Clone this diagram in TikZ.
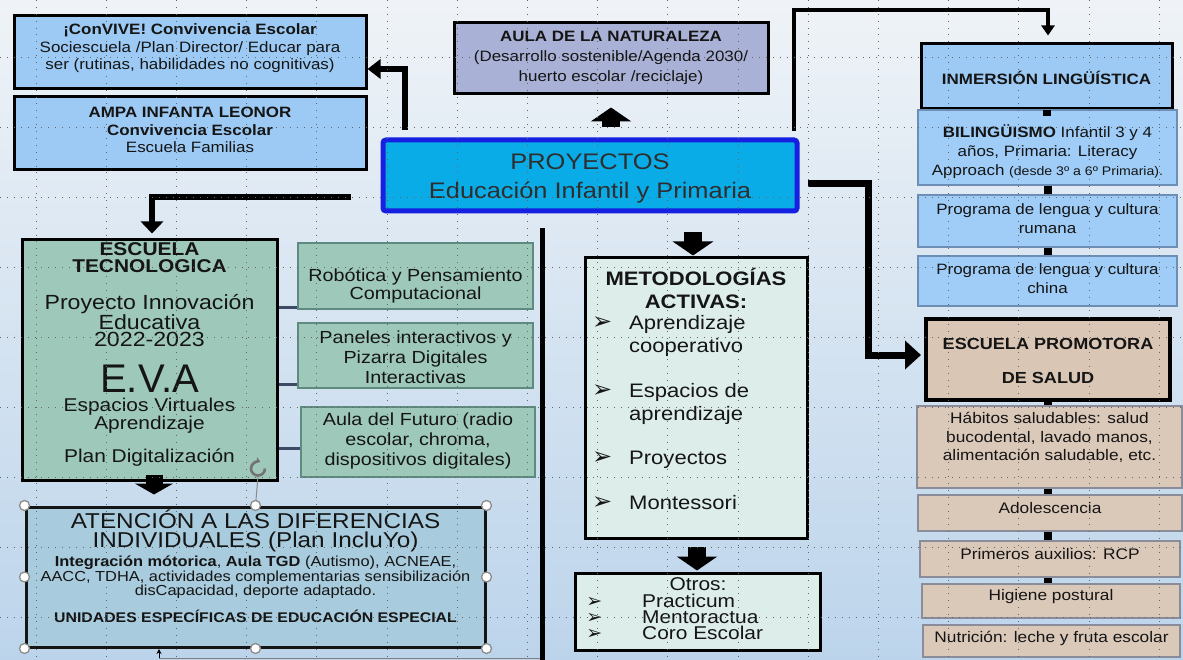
\documentclass[tikz,border=0pt]{standalone}
\usepackage{fontspec}
\setmainfont{Liberation Sans}[FakeStretch=1.13]
\newfontfamily\evafont{Liberation Sans}
\newfontfamily\djv{DejaVu Sans}
\usetikzlibrary{arrows.meta,calc}
\newcommand\myfs[2]{\fontsize{#1}{#2}\selectfont}
\newcommand\mybox[6]{\node[#1,minimum width={#4-#2},minimum height={#5-#3}] (#6) at ({(#2+#4)/2},{(#3+#5)/2}) {};}
\newcommand\bul{\llap{\smash{\djv\myfs{24}{24}➢}\hspace{17pt}}}
\newcommand\bulb{\llap{\smash{\djv\myfs{19}{19}➢}\hspace{40pt}}}
\definecolor{skyb}{HTML}{9CCAF4}
\definecolor{skyc}{HTML}{9FCDF7}
\definecolor{skyline}{HTML}{6E8FB5}
\definecolor{lav}{HTML}{A9B1D6}
\definecolor{cyanb}{HTML}{0AACE8}
\definecolor{blueb}{HTML}{1520E0}
\definecolor{beige}{HTML}{DAC6B5}
\definecolor{beigec}{HTML}{DAC8B9}
\definecolor{beigeline}{HTML}{8A8C99}
\definecolor{sage}{HTML}{9EC9BA}
\definecolor{sageline}{HTML}{5E8A80}
\definecolor{mint}{HTML}{DDEDEA}
\definecolor{steel}{HTML}{A8CBDD}
\definecolor{slate}{HTML}{3C4A66}
\definecolor{bgtop}{HTML}{EFF3F7}
\definecolor{bgbot}{HTML}{BCD4EB}
\definecolor{ink}{HTML}{151515}
\definecolor{proyink}{HTML}{2E2E2E}
\tikzset{
  thickbox/.style={draw=black, line width=3pt},
  thinbox/.style={line width=1.2pt},
  txt/.style={inner sep=0pt, align=center, text=ink},
  bigconn/.style={line width=6pt, -{Triangle[width=19pt,length=13pt]}},
  midconn/.style={line width=4pt, -{Triangle[width=13pt,length=10pt]}},
  blockarr/.style={line width=18pt, -{Triangle[width=40pt,length=14pt]}},
  linkbar/.style={line width=8pt},
  slateconn/.style={draw=slate, line width=3pt},
  gridl/.style={draw=black!60, line width=0.9pt, dash pattern=on 0.9pt off 6pt},
  handle/.style={draw=black!45, fill=white, line width=1.3pt},
}
\begin{document}
\begin{tikzpicture}[x=1pt,y=-1pt]
\useasboundingbox (0,0) rectangle (1183,660);
\shade[top color=bgtop, bottom color=bgbot] (0,0) rectangle (1183,660);

% ---------- right column ----------
\mybox{thickbox, fill=skyb}{921}{44}{1172}{109}{inm}
\mybox{thinbox, draw=skyline, fill=skyc}{918}{110}{1177}{185}{bil}
\mybox{thinbox, draw=skyline, fill=skyc}{918}{195}{1177}{247}{rum}
\mybox{thinbox, draw=skyline, fill=skyc}{918}{256}{1177}{306}{chi}
\mybox{thickbox, line width=4pt, fill=beige}{926}{319}{1170}{400}{prom}
\mybox{thinbox, draw=beigeline, fill=beigec}{917}{406}{1182}{488}{hab}
\mybox{thinbox, draw=beigeline, fill=beigec}{918}{495}{1182}{531}{ado}
\mybox{thinbox, draw=beigeline, fill=beigec}{920}{541}{1180}{577}{pri}
\mybox{thinbox, draw=beigeline, fill=beigec}{922}{584}{1180}{618}{hig}
\mybox{thinbox, draw=beigeline, fill=beigec}{923}{625}{1180}{657}{nut}
\draw[linkbar] (inm.south) -- ($(inm.south)+(0,6)$);
\draw[linkbar] (bil.south) -- (bil.south |- rum.north);
\draw[linkbar] (rum.south) -- (rum.south |- chi.north);
\draw[linkbar] (prom.south) -- (prom.south |- hab.north);
\draw[linkbar] (prom.south |- hab.south) -- (prom.south |- ado.north);
\draw[linkbar] (prom.south |- ado.south) -- (prom.south |- pri.north);
\draw[linkbar] (prom.south |- pri.south) -- (prom.south |- hig.north);

% ---------- left / centre boxes ----------
\mybox{thickbox, fill=skyb}{14}{16}{366}{89}{conv}
\mybox{thickbox, fill=skyb}{14}{97}{366}{170}{ampa}
\mybox{thickbox, fill=lav}{454}{23}{768}{94}{aula}
\mybox{draw=blueb, line width=5pt, rounded corners=3pt, fill=cyanb}{383}{140}{797}{211}{proy}
\mybox{thickbox, fill=sage}{22}{240}{277}{480}{tec}
\mybox{thinbox, draw=sageline, fill=sage}{298}{243}{533}{309}{rob}
\mybox{thinbox, draw=sageline, fill=sage}{298}{323}{533}{388}{pan}
\mybox{thinbox, draw=sageline, fill=sage}{301}{407}{535}{477}{fut}
\mybox{thickbox, fill=mint}{585}{258}{807}{538}{met}
\mybox{thickbox, fill=mint}{575}{573}{820}{650}{otr}
\mybox{draw=ink, line width=3pt, fill=steel}{26}{507}{485}{647}{aten}

% ---------- texts ----------
\node[txt, font={\myfs{15}{17.5}}] (convt) at (190,48.5) {{\bfseries ¡ConVIVE! Convivencia Escolar}\\Sociescuela /Plan Director/ Educar para\\ser (rutinas, habilidades no cognitivas)};
\node[txt, font={\myfs{15}{17.5}}] (ampat) at (190,130) {{\bfseries AMPA INFANTA LEONOR}\\{\bfseries Convivencia Escolar}\\Escuela Familias};
\node[txt, font={\myfs{15}{20}}] (aulat) at (611,58) {{\bfseries AULA DE LA NATURALEZA}\\(Desarrollo sostenible/Agenda 2030/\\huerto escolar /reciclaje)};
\node[txt, text=proyink, font={\myfs{22.5}{29}}] (proyt) at (590,178) {PROYECTOS\\Educación Infantil y Primaria};
\node[txt, font={\myfs{15}{18}\bfseries}] (inmt) at (1046.5,78) {INMERSIÓN LINGÜÍSTICA};
\node[txt, font={\myfs{15}{19}}] (bilt) at (1047.5,152) {{\bfseries BILINGÜISMO} Infantil 3 y 4\\años, Primaria: Literacy\\Approach {\myfs{12.5}{19}(desde 3º a 6º Primaria).}};
\node[txt, font={\myfs{15}{19}}] (rumt) at (1047.5,219) {Programa de lengua y cultura\\rumana};
\node[txt, font={\myfs{15}{19}}] (chit) at (1047.5,279) {Programa de lengua y cultura\\china};
\node[txt, font={\myfs{16}{34}\bfseries}] (promt) at (1048,361) {ESCUELA PROMOTORA\\DE SALUD};
\node[txt, font={\myfs{15.3}{18.5}}] (habt) at (1049.5,437.5) {Hábitos saludables: salud\\bucodental, lavado manos,\\alimentación saludable, etc.};
\node[txt, font={\myfs{15.3}{18}}] (adot) at (1050,508) {Adolescencia};
\node[txt, font={\myfs{15.3}{18}}] (prit) at (1050,554) {Primeros auxilios: RCP};
\node[txt, font={\myfs{15.3}{18}}] (higt) at (1051,597) {Higiene postural};
\node[txt, font={\myfs{15.3}{18}}] (nutt) at (1051.5,638) {Nutrición: leche y fruta escolar};

\node[txt, font={\myfs{18.5}{17}\bfseries}] (teca) at (149.5,257.5) {ESCUELA\\TECNOLOGICA};
\node[txt, font={\myfs{20.5}{17.5}}] (tecb) at (149.5,320.5) {Proyecto Innovación\\Educativa\\2022-2023};
\node[txt, font={\evafont\myfs{40}{40}}] (teceva) at (149.5,379) {E.V.A};
\node[txt, font={\myfs{18.5}{16.5}}] (tecc) at (149.5,415.5) {Espacios Virtuales\\Aprendizaje};
\node[txt, font={\myfs{18.5}{18}}] (tecd) at (149.5,458) {Plan Digitalización};
\node[txt, font={\myfs{17.5}{16}}] (robt) at (415.5,286) {Robótica y Pensamiento\\Computacional};
\node[txt, font={\myfs{17.5}{20}}] (pant) at (415.5,357) {Paneles interactivos y\\Pizarra Digitales\\Interactivas};
\node[txt, font={\myfs{17.5}{20}}] (futt) at (418,441) {Aula del Futuro (radio\\escolar, chroma,\\dispositivos digitales)};

\node[txt, font={\myfs{19.5}{23}\bfseries}] (mett) at (696,288) {METODOLOGÍAS\\ACTIVAS:};
\node[txt, align=left, anchor=west, font={\myfs{19.5}{22.5}}] (meti) at (629,413) {\bul Aprendizaje\\cooperativo\\[23pt]\bul Espacios de\\aprendizaje\\[22pt]\bul Proyectos\\[22.5pt]\bul Montessori};
\node[txt, font={\myfs{18.5}{16}}] (otrt) at (698,584) {Otros:};
\node[txt, align=left, anchor=west, font={\myfs{18.5}{16}}] (otri) at (642,617) {\bulb Practicum\\\bulb Mentoractua\\\bulb Coro Escolar};

\node[txt, font={\myfs{21.5}{19}}] (atena) at (255.5,531) {ATENCIÓN A LAS DIFERENCIAS\\INDIVIDUALES (Plan IncluYo)};
\node[txt, font={\myfs{14.5}{10.3}}] (atenb) at (255.5,577.5) {{\bfseries Integración mótorica}, {\bfseries Aula TGD} (Autismo), ACNEAE,\\AACC, TDHA, actividades complementarias sensibilización\\disCapacidad, deporte adaptado.};
\node[txt, font={\myfs{14}{16}\bfseries}] (atenc) at (255.5,616) {UNIDADES ESPECÍFICAS DE EDUCACIÓN ESPECIAL};

% ---------- connectors ----------
\coordinate (c1) at (405,130);
\draw[bigconn] (c1) |- ($(conv.east)+(0,16.5)$);
\coordinate (c2) at (351,197);
\draw[bigconn, -{Triangle[width=22pt,length=12pt]}] (c2) -| ($(tec.north)+(2.5,-5)$);
\coordinate (c3) at (794,131);
\coordinate (c3t) at (794,10);
\draw[midconn] (c3) -- (c3t) -| ($(inm.north)+(1.5,-7)$);
\coordinate (c4) at (808,184);
\coordinate (c4b) at (868,184);
\draw[bigconn, line width=7pt, -{Triangle[width=28pt,length=16pt]}] (c4) -- (c4b) |- ($(prom.west)+(-3,-4.5)$);

\draw[blockarr] ($(aula.south |- proy.north)+(0,-10)$) -- ($(aula.south)+(0,12)$);
\draw[blockarr] ($(met.north |- proy.south)+(-3,19)$) -- ($(met.north)+(-3,-1)$);
\draw[blockarr, line width=17pt, -{Triangle[width=38pt,length=11pt]}] ($(tec.south)+(4.5,-7)$) -- ($(tec.south)+(4.5,13)$);
\draw[blockarr] ($(met.south)+(1,7)$) -- ($(otr.north)+(-0.5,-1)$);

\path ($(rob.south west)+(0,-2)$) coordinate (r1);
\path ($(pan.south west)+(0,-4)$) coordinate (r2);
\path ($(fut.west)+(0,6)$) coordinate (r3);
\draw[slateconn] (tec.east |- r1) -- (r1);
\draw[slateconn] (tec.east |- r2) -- (r2);
\draw[slateconn] (tec.east |- r3) -- (r3);

\coordinate (v1) at (542,228);
\coordinate (v2) at (542,662);
\draw[line width=5pt] (v1) -- (v2);

% ---------- grid ----------
\foreach \i in {0,...,16} \draw[gridl] ({36+70.2*\i},0) -- ({36+70.2*\i},660);
\foreach \j in {0,...,8} \draw[gridl] (0,{57+70*\j}) -- (1183,{57+70*\j});

% ---------- selection handles ----------
\coordinate (rot) at ($(aten.north)+(2.5,-37)$);
\draw[black!45, line width=1pt] (aten.north) -- ($(rot)+(0,8)$);
\draw[black!55, line width=2.6pt, -{Stealth[length=5pt,width=7pt]}] ($(rot)+(7,0)$) arc[start angle=0, end angle=290, radius=7];
\foreach \a in {north west,north,north east,west,east,south west,south,south east}
  \draw[handle] (aten.\a) circle (5);
\coordinate (b1) at (540,658);
\coordinate (b2) at (159,649);
\draw[black!50, line width=0.8pt] (b1) -- (b1 -| b2);
\draw[line width=1pt, -{Stealth[length=5pt,width=5pt]}] (b1 -| b2) -- (b2);
\end{tikzpicture}
\end{document}
